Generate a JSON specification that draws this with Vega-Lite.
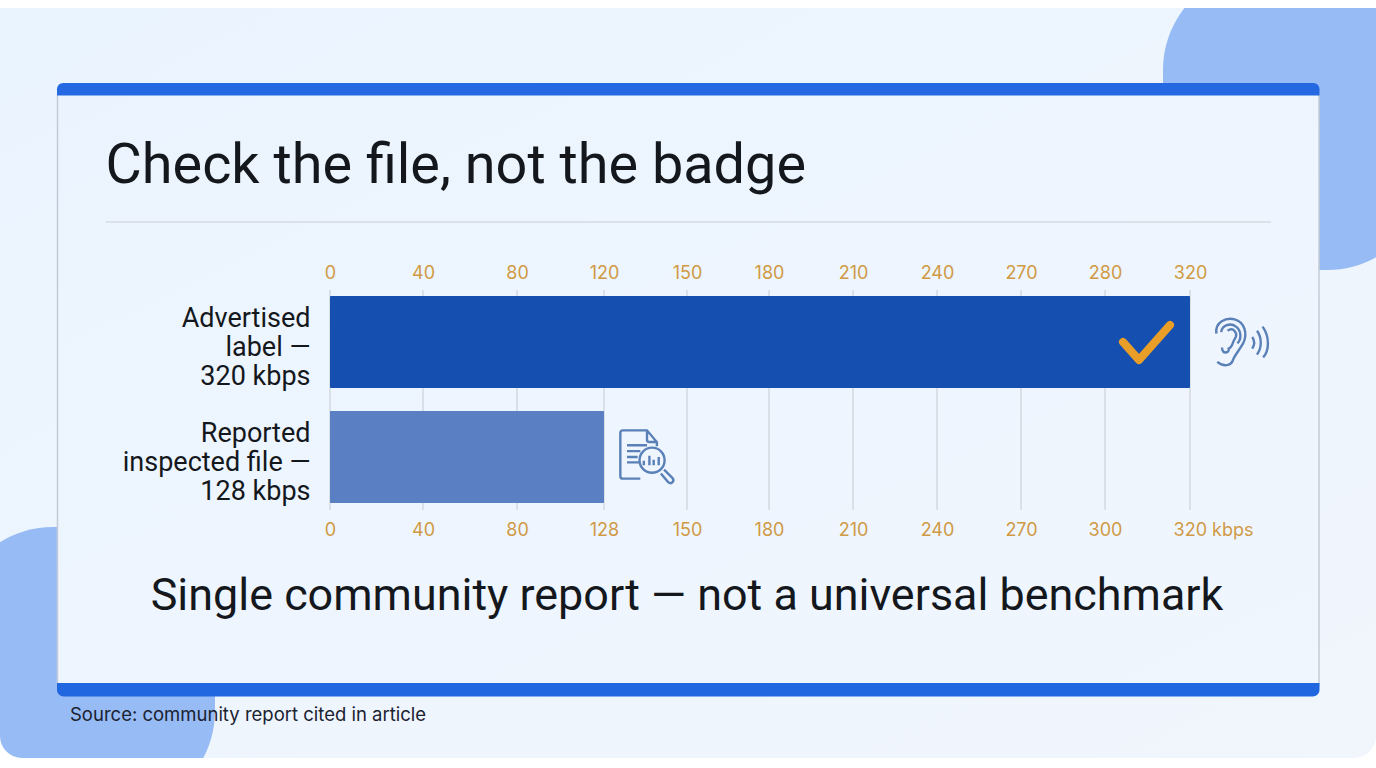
{
"$schema":"https://vega.github.io/schema/vega-lite/v6.json",
"width":1376,"height":768,"padding":0,"autosize":{"type":"none"},"background":"#FFFFFF",
"config":{"view":{"stroke":null},"font":"Roboto"},
"title":{"text":"Check the file, not the badge","anchor":"start","frame":"group","offset":-271,"dx":105.5,"baseline":"alphabetic","fontSize":55.8,"fontWeight":400,"font":"Roboto","color":"#14181D"},
"datasets":{
"panels":[
{"part":"panel","x0":0,"x1":1376,"y0":8,"y1":758}
],
"blobs":[
{"part":"top right","x0":1163,"x1":1427,"y0":-30,"y1":270},
{"part":"bottom left","x0":-47,"x1":215,"y0":527,"y1":811}
],
"frame":[{"x0":-20,"x1":1396,"y0":-12,"y1":778}],
"card":[{"x0":57.5,"x1":1319,"y0":84,"y1":695}],
"bands":[{"x0":57,"x1":1319.5,"y0":83,"y1":95.5,"edge":"top"}],
"bandsB":[{"x0":57,"x1":1319.5,"y0":683,"y1":696.5,"edge":"bottom"}],
"divider":[{"x0":106,"x1":1271,"y":222}],
"topTicks":[
{"tick":0,"y0":290,"y1":510},{"tick":40,"y0":290,"y1":510},{"tick":80,"y0":290,"y1":510},{"tick":120,"y0":290,"y1":510},{"tick":150,"y0":290,"y1":510},{"tick":180,"y0":290,"y1":510},{"tick":210,"y0":290,"y1":510},{"tick":240,"y0":290,"y1":510},{"tick":270,"y0":290,"y1":510},{"tick":280,"y0":290,"y1":510},{"tick":320,"y0":290,"y1":510}
],
"bars":[
{"label":"Advertised label — 320 kbps","kbps":320},
{"label":"Reported inspected file — 128 kbps","kbps":128}
],
"check":[{"x":1123,"y":342,"o":1},{"x":1139,"y":360,"o":2},{"x":1170,"y":325,"o":3}],
"ear":[{"x":1243,"y":342}],
"doc":[{"x":647,"y":457}],
"notes":[{"x":687,"y":610,"text":"Single community report — not a universal benchmark"}],
"source":[{"x":70,"y":721,"text":"Source: community report cited in article"}]
},
"layer":[
{
"encoding":{
"x":{"field":"x0","type":"quantitative","scale":{"domain":[0,1376],"range":[0,1376],"nice":false,"zero":false,"clamp":false},"axis":null},
"x2":{"field":"x1"},
"y":{"field":"y0","type":"quantitative","scale":{"domain":[0,768],"range":[0,768],"nice":false,"zero":false},"axis":null},
"y2":{"field":"y1"}
},
"layer":[
{"data":{"name":"panels"},"mark":{"type":"rect","clip":false,"fill":{"x1":0,"y1":0,"x2":1,"y2":1,"gradient":"linear","stops":[{"offset":0,"color":"#EAF4FE"},{"offset":1,"color":"#F1F6FD"}]}}},
{"data":{"name":"blobs"},"mark":{"type":"rect","fill":"#97BBF4","cornerRadius":100}},
{"data":{"name":"frame"},"mark":{"type":"rect","fillOpacity":0,"stroke":"#FFFFFF","strokeWidth":40,"cornerRadiusBottomLeft":42,"cornerRadiusBottomRight":42}},
{"data":{"name":"card"},"mark":{"type":"rect","stroke":"#C3CBD6","strokeWidth":1.5,"cornerRadius":12,"fill":{"x1":0,"y1":0,"x2":1,"y2":1,"gradient":"linear","stops":[{"offset":0,"color":"#EBF4FE"},{"offset":1,"color":"#F0F6FE"}]}}},
{"data":{"name":"bands"},"mark":{"type":"rect","fill":"#2469E1","cornerRadiusTopLeft":12,"cornerRadiusTopRight":12}},
{"data":{"name":"bandsB"},"mark":{"type":"rect","fill":"#2168E0","cornerRadiusBottomLeft":12,"cornerRadiusBottomRight":12}}
]
},
{
"data":{"name":"divider"},
"mark":{"type":"rule","stroke":"#C9CDD3","strokeWidth":1.2},
"encoding":{
"x":{"field":"x0","type":"quantitative","scale":{"domain":[0,1376],"range":[0,1376],"nice":false,"zero":false},"axis":null},
"x2":{"field":"x1"},
"y":{"field":"y","type":"quantitative","scale":{"domain":[0,768],"range":[0,768],"nice":false,"zero":false},"axis":null}
}
},
{
"data":{"name":"topTicks"},
"mark":{"type":"rule","stroke":"#C5CAD1","strokeWidth":1},
"encoding":{
"x":{"field":"tick","type":"quantitative","scale":{"domain":[0,40,80,120,150,180,210,240,270,280,320],"range":[330,423,517,604,687,769,853,937,1021,1105,1190],"nice":false,"zero":false},
"axis":{"orient":"top","values":[0,40,80,120,150,180,210,240,270,280,320],"title":null,"domain":false,"ticks":false,"grid":false,"offset":-282,"labelPadding":0,"labelFontSize":18,"labelColor":"#D09A45","labelFont":"Inter","labelOverlap":false,"labelFlush":false,"labelBound":false,"zindex":1}},
"y":{"field":"y0","type":"quantitative","scale":{"domain":[0,768],"range":[0,768],"nice":false,"zero":false},"axis":null},
"y2":{"field":"y1"}
}
},
{
"data":{"name":"bars"},
"mark":{"type":"bar","cornerRadius":1},
"encoding":{
"x":{"field":"kbps","type":"quantitative","stack":null,"scale":{"domain":[0,40,80,128,150,180,210,240,270,300,320],"range":[330,423,517,604,687,769,853,937,1021,1105,1190],"nice":false,"zero":false},
"axis":{"orient":"bottom","values":[0,40,80,128,150,180,210,240,270,300,320],"title":null,"domain":false,"ticks":false,"grid":false,"offset":-247,"labelPadding":0,"labelFontSize":18,"labelColor":"#D09A45","labelFont":"Inter","labelOverlap":false,"labelFlush":false,"labelBound":false,"zindex":1,"labelExpr":"datum.value == 320 ? '320 kbps' : datum.label","labelOffset":{"condition":{"test":"datum.value == 320","value":23},"value":0}}},
"y":{"field":"label","type":"nominal","sort":null,"scale":{"type":"band","domain":["Advertised label — 320 kbps","Reported inspected file — 128 kbps"],"range":[296,503],"paddingInner":0.2,"paddingOuter":0},
"axis":{"orient":"left","title":null,"domain":false,"ticks":false,"grid":false,"offset":-310,"labelPadding":0,"labelOffset":-23.5,"labelFontSize":27,"labelColor":"#14181D","labelFont":"Roboto","labelLineHeight":29,"labelLimit":400,"labelOverlap":false,"labelBound":false,"zindex":1,"labelExpr":"datum.value == 'Advertised label — 320 kbps' ? ['Advertised','label —','320 kbps'] : ['Reported','inspected file —','128 kbps']"}},
"color":{"field":"label","type":"nominal","scale":{"domain":["Advertised label — 320 kbps","Reported inspected file — 128 kbps"],"range":["#154FB0","#5A7FC3"]},"legend":null}
}
},
{
"encoding":{
"x":{"field":"x","type":"quantitative","scale":{"domain":[0,1376],"range":[0,1376],"nice":false,"zero":false},"axis":null},
"y":{"field":"y","type":"quantitative","scale":{"domain":[0,768],"range":[0,768],"nice":false,"zero":false},"axis":null}
},
"layer":[
{"data":{"name":"check"},"mark":{"type":"line","stroke":"#E89E27","strokeWidth":8,"strokeCap":"round","strokeJoin":"round"},"encoding":{"order":{"field":"o","type":"quantitative"}}},
{"data":{"name":"ear"},"mark":{"type":"point","filled":false,"stroke":"#5A80B8","strokeWidth":2.4,"opacity":1,"size":3136,"shape":"M-.95 -.30 C-1.01 -.71 -.6 -.89 -.3 -.81 C.06 -.71 .18 -.3 0 .06 C-.18 .36 -.3 .48 -.36 .65 C-.42 .86 -.71 .89 -.92 .71 M-.78 -.35 C-.75 -.6 -.45 -.7 -.25 -.55 C-.05 -.4 -.05 -.1 -.2 .05 M-.55 -.4 C-.35 -.55 -.15 -.3 -.3 -.1 C-.4 .05 -.35 .2 -.55 .25 M-.75 .2 C-.75 .45 -.5 .4 -.5 .25 M.33 -.18 C.42 -.05 .42 .1 .33 .24 M.5 -.4 C.68 -.15 .68 .2 .5 .45 M.7 -.55 C.95 -.2 .95 .3 .72 .55"}},
{"data":{"name":"doc"},"mark":{"type":"point","filled":false,"stroke":"#5A80B8","strokeWidth":2.4,"opacity":1,"size":2844,"shape":"M.37 -.4 L.37 -.56 L0 -1 L-.9 -1 Q-1 -1 -1 -.9 L-1 .72 Q-1 .81 -.9 .81 L-.25 .81 M0 -1 L0 -.65 Q0 -.56 .1 -.56 L.37 -.56 M-.75 -.44 L0 -.44 M-.75 -.22 L-.25 -.22 M-.75 0 L-.35 0 M-.75 .2 L-.3 .2 M-.28 .12 A.47 .47 0 1 1 .66 .12 A.47 .47 0 1 1 -.28 .12 M-.12 .31 L-.12 .14 M.09 .31 L.09 -.05 M.25 .31 L.25 .1 M.44 .31 L.44 0 M.52 .62 L.8 .95 Q.9 1.02 .97 .93 Q1.02 .85 .95 .78 L.64 .47"}},
{"data":{"name":"notes"},"mark":{"type":"text","align":"center","baseline":"alphabetic","fontSize":44.9,"font":"Roboto","fill":"#14181D"},"encoding":{"text":{"field":"text"}}},
{"data":{"name":"source"},"mark":{"type":"text","align":"left","baseline":"alphabetic","fontSize":18.5,"font":"Inter","fill":"#1A2230"},"encoding":{"text":{"field":"text"}}}
]
}
],
"resolve":{"scale":{"x":"independent","y":"independent","color":"independent"}}
}
